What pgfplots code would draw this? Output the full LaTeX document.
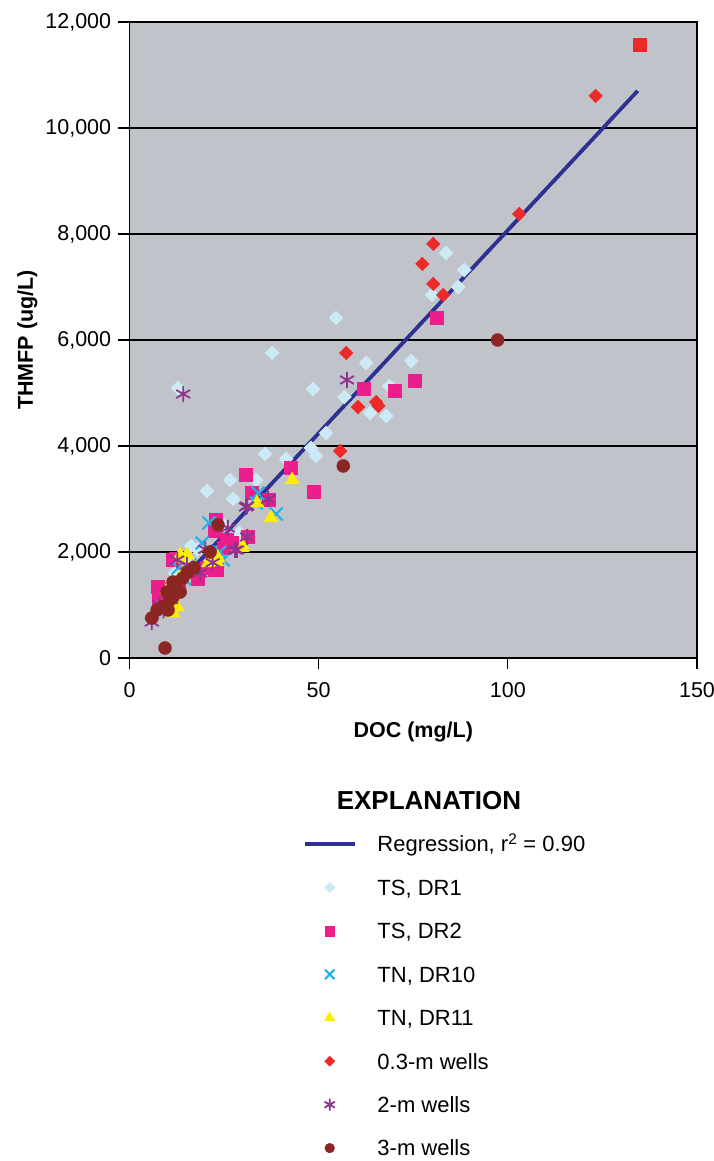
\documentclass[border=0pt]{standalone}
\usepackage{fontspec}
\setmainfont{Liberation Sans}
\usepackage{pgfplots}
\pgfplotsset{compat=1.18}
\definecolor{bgc}{RGB}{192,195,202}
\definecolor{regc}{RGB}{46,49,146}
\definecolor{dra}{RGB}{204,234,245}
\definecolor{drb}{RGB}{235,30,140}
\definecolor{drc}{RGB}{30,178,234}
\definecolor{drd}{RGB}{255,238,0}
\definecolor{wa}{RGB}{237,41,41}
\definecolor{wb}{RGB}{142,52,142}
\definecolor{wc}{RGB}{139,38,34}
\begin{document}
\fontsize{21.5}{25}\selectfont
\begin{tikzpicture}
\path[use as bounding box] (0pt,0pt) rectangle (714pt,1161pt);
\begin{axis}[
  at={(129.5pt,503pt)}, anchor=south west,
  scale only axis, width=567.5pt, height=636pt,
  xmin=0, xmax=150, ymin=0, ymax=12000,
  xtick={0,50,100,150}, ytick={0,2000,...,12000},
  scaled x ticks=false, scaled y ticks=false,
  axis background/.style={fill=bgc},
  axis line style={line width=1.6pt, black},
  ymajorgrids, grid style={line width=1.2pt, black},
  tick align=outside, major tick length=11pt,
  tick style={line width=1.2pt, black},
  xtick pos=bottom, ytick pos=left,
  tick label style={font=\fontsize{21.5}{25}\selectfont},
  xticklabel style={yshift=-6pt},
  xlabel={DOC (mg/L)}, ylabel={THMFP (ug/L)},
  label style={font=\bfseries\fontsize{21.5}{25}\selectfont},
  xlabel style={at={(axis description cs:0.5,-0.1164)}, anchor=center},
  ylabel style={at={(axis description cs:-0.18,0.5)}, anchor=center},
  legend style={at={(axis description cs:0.3057,-0.272)}, anchor=north west,
    draw=none, fill=none, inner sep=0pt, outer sep=0pt,
    row sep=17.2pt, column sep=19pt,
    font=\fontsize{22}{26}\selectfont,
    cells={anchor=west, inner sep=0pt, text height=19pt, text depth=0pt}},
  legend cell align=left,
  legend image code/.code={\draw[mark repeat=2,mark phase=2,#1,every mark/.append style={scale=0.75}] plot coordinates {(0pt,0pt) (25pt,0pt) (50pt,0pt)};},
  /pgf/number format/1000 sep={,},
  /pgf/number format/assume math mode=true,
]
% regression (legend entry)
\addplot[regc, line width=3.5pt, no marks] coordinates {(6,870) (134.3,10700)};
\addlegendentry{Regression, r\textsuperscript{2} = 0.90}
% TS, DR1
\addplot[only marks, mark=square*, mark size=5pt, color=dra, mark options={rotate=45}] coordinates {
(12.8,5095) (54.6,6416) (37.7,5755) (83.7,7642) (88.5,7321) (86.9,7000) (80.0,6850)
(62.6,5566) (74.5,5604) (48.5,5076) (56.8,4925) (63.6,4623) (67.9,4566) (68.7,5132)
(52.0,4245) (48.0,3963) (49.3,3812) (35.8,3850) (41.4,3755) (26.6,3359) (20.5,3151)
(27.4,3000) (33.5,3359) (16.3,2113) (15,1900) (12,1600) (18,2050) (10,1150) (29,2360) (25,2500)
};
\addlegendentry{TS, DR1}
% TS, DR2
\addplot[only marks, mark=square*, mark size=6.5pt, color=drb] coordinates {
(81.3,6416) (62.0,5076) (70.0,5038) (75.3,5227) (48.8,3132) (30.6,3453) (42.5,3585)
(36.9,2981) (32.4,3113) (22.9,2604) (31.3,2283) (25.8,2227) (24.8,2076) (22.6,1660)
(22.6,2396) (27.1,2170) (12.1,1868) (7.5,1340) (7.8,1094) (8.1,1283) (11.5,1849)
(23.1,1660) (20.5,1700) (18,1500) (13,1300)
};
\addlegendentry{TS, DR2}
% TN, DR10
\addplot[only marks, mark=x, mark size=9pt, line width=2pt, color=drc] coordinates {
(38.8,2717) (34.0,3113) (21.0,2548) (19.2,2170) (23.9,2000) (24.8,1849) (12.8,1698)
(33.5,2925) (14.5,1500) (10.5,1100) (8.5,950) (16,1750)
};
\addlegendentry{TN, DR10}
% TN, DR11
\addplot[only marks, mark=triangle*, mark size=8pt, color=drd] coordinates {
(43.0,3359) (37.4,2642) (33.7,2925) (30.0,2095) (23.1,1812) (20.8,1793) (15.2,1944)
(13.9,1868) (9.9,1283) (11.5,849) (23.4,1887) (29.8,2076) (13.4,1944) (12.6,962)
(17,1700) (11,1000) (14,1600)
};
\addlegendentry{TN, DR11}
% 0.3-m wells
\addplot[only marks, mark=square*, mark size=4.8pt, color=wa, mark options={rotate=45}] coordinates {
(80.3,7812) (77.4,7435) (80.3,7057) (82.9,6850) (57.3,5755) (60.4,4736) (65.2,4830)
(65.8,4755) (55.7,3906) (123.2,10605) (103.0,8378)
};
\addlegendentry{0.3-m wells}
% 2-m wells
\addplot[only marks, mark=asterisk, mark size=8pt, line width=1.8pt, color=wb] coordinates {
(14.2,4981) (57.5,5246) (36.6,3000) (31.1,2868) (31.1,2283) (27.9,2038) (18.7,1604)
(15.2,1755) (12.6,1849) (5.9,679) (30.8,2849) (28.4,2038) (26.0,2453) (20,2050)
(9,900) (11,1100) (8,1000) (22,1800)
};
\addlegendentry{2-m wells}
% 3-m wells
\addplot[only marks, mark=*, mark size=6.5pt, color=wc] coordinates {
(9.4,189) (23.4,2510) (5.9,755) (21.3,2000) (11.5,1434) (15.2,1604) (13.4,1245)
(10.7,1094) (8.6,962) (7.3,906) (9.9,1245) (11.5,1151) (10.2,906) (56.5,3623)
(97.3,6000) (17,1700) (12,1350) (14,1500)
};
\addlegendentry{3-m wells}
% outlier red square
\addplot[only marks, mark=square*, mark size=6.5pt, color=wa, forget plot] coordinates {(134.8,11567)};
% regression on top
\addplot[regc, line width=3.5pt, no marks, forget plot] coordinates {(6,870) (134.3,10700)};
\end{axis}
\node[font=\bfseries\fontsize{26}{30}\selectfont, anchor=base] at (429pt,351.7pt) {EXPLANATION};
\end{tikzpicture}
\end{document}
